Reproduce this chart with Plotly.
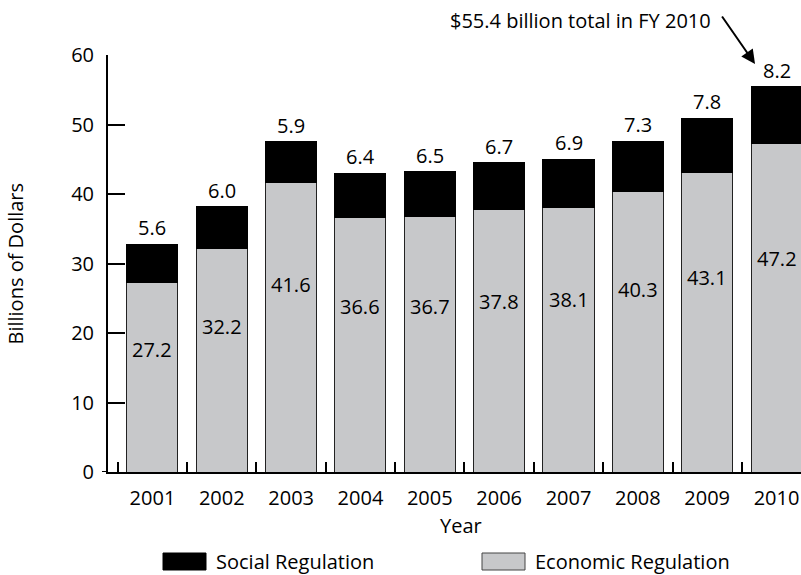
import plotly.graph_objects as go

# Federal regulatory spending by fiscal year (billions of dollars)
years = ["2001", "2002", "2003", "2004", "2005", "2006", "2007", "2008", "2009", "2010"]
economic = [27.2, 32.2, 41.6, 36.6, 36.7, 37.8, 38.1, 40.3, 43.1, 47.2]
social = [5.6, 6.0, 5.9, 6.4, 6.5, 6.7, 6.9, 7.3, 7.8, 8.2]
y_ticks = [0, 10, 20, 30, 40, 50, 60]

totals = [e + s for e, s in zip(economic, social)]

FONT = "Open Sans"
SIZE = 20
GREY = "#c7c8ca"
TXT = dict(family=FONT, size=SIZE, color="black")

# plot-area geometry in pixels, used to place paper-referenced items
L, T, W, H = 108, 55, 693, 417


def px(x):
    return (x - L) / W


def py(y):
    return (T + H - y) / H


fig = go.Figure()
fig.add_trace(go.Bar(
    x=years, y=economic, name="Economic Regulation",
    marker=dict(color=GREY, line=dict(color="#222222", width=1)),
    showlegend=False,
))
fig.add_trace(go.Bar(
    x=years, y=social, name="Social Regulation",
    marker=dict(color="black", line=dict(color="black", width=1)),
    showlegend=False,
))

annotations = []
# economic values inside the grey segments
for i, e in enumerate(economic):
    annotations.append(dict(x=i, y=e * 0.65, xref="x", yref="y", text=f"{e:.1f}",
                            showarrow=False, xanchor="center", yanchor="middle", font=TXT))
# social values above each stack
for i, (s, t) in enumerate(zip(social, totals)):
    annotations.append(dict(x=i, y=t, xref="x", yref="y", text=f"{s:.1f}",
                            showarrow=False, xanchor="center", yanchor="bottom",
                            yshift=1, font=TXT))

# callout for the final year total
annotations.append(dict(
    x=8.69, y=58.7, xref="x", yref="y", text="", showarrow=True,
    ax=-34, ay=-49, arrowhead=2, arrowsize=1.4, arrowwidth=2, arrowcolor="black",
    standoff=0, startstandoff=0,
))
annotations.append(dict(
    x=px(713), y=py(20), xref="paper", yref="paper", xanchor="right", yanchor="middle",
    text=f"${totals[-1]:.1f} billion total in FY {years[-1]}", showarrow=False, font=TXT,
))

# axis titles
annotations.append(dict(
    x=px(15), y=0.5, xref="paper", yref="paper", xanchor="center", yanchor="middle",
    text="Billions of Dollars", textangle=-90, showarrow=False, font=TXT,
))
annotations.append(dict(
    x=px(461.5), y=py(525), xref="paper", yref="paper", xanchor="center", yanchor="middle",
    text="Year", showarrow=False, font=TXT,
))

# legend drawn as swatches + labels
shapes = [
    dict(type="rect", xref="paper", yref="paper",
         x0=px(163), x1=px(206), y0=py(553), y1=py(570),
         fillcolor="black", line=dict(color="black", width=1)),
    dict(type="rect", xref="paper", yref="paper",
         x0=px(482), x1=px(525), y0=py(553), y1=py(570),
         fillcolor=GREY, line=dict(color="#444444", width=1)),
    # baseline stub left of the value axis
    dict(type="line", xref="paper", yref="y", x0=px(102), x1=0, y0=0, y1=0,
         line=dict(color="black", width=2)),
]
annotations.append(dict(
    x=px(214), y=py(561.5), xref="paper", yref="paper",
    xanchor="left", yanchor="middle", text="Social Regulation", showarrow=False, font=TXT,
))
annotations.append(dict(
    x=px(533), y=py(561.5), xref="paper", yref="paper",
    xanchor="left", yanchor="middle", text="Economic Regulation", showarrow=False, font=TXT,
))

fig.update_layout(
    width=801, height=575,
    margin=dict(l=L, r=801 - L - W, t=T, b=575 - T - H),
    barmode="stack", bargap=0.264,
    plot_bgcolor="white", paper_bgcolor="white",
    font=TXT,
    annotations=annotations, shapes=shapes,
    xaxis=dict(
        type="category", range=[-0.641, 9.353],
        tickson="boundaries", ticks="inside", ticklen=10, tickwidth=2, tickcolor="black",
        showline=True, linewidth=2, linecolor="black", showgrid=False,
        ticklabelstandoff=7, tickfont=TXT,
    ),
    yaxis=dict(
        range=[0, 60], tickvals=y_ticks, ticktext=[str(v) for v in y_ticks],
        ticks="inside", ticklen=17, tickwidth=2, tickcolor="black",
        showline=True, linewidth=2, linecolor="black", showgrid=False, zeroline=False,
        ticklabelstandoff=8, tickfont=TXT,
    ),
)

fig.write_html("out.html")
